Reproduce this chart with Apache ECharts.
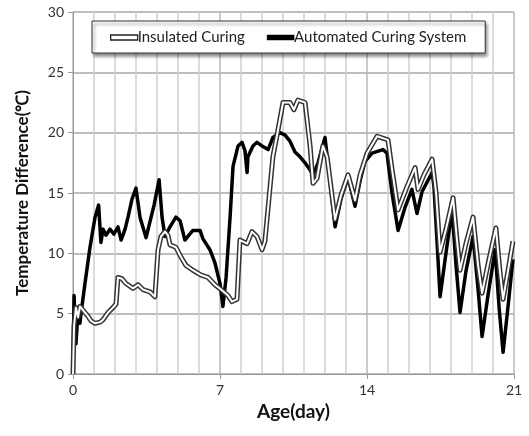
<!DOCTYPE html>
<html>
<head>
<meta charset="utf-8">
<script src="https://cdn.jsdelivr.net/npm/echarts@6/dist/echarts.min.js"></script>
<style>
html,body{margin:0;padding:0;background:#fff;}
#chart{width:529px;height:436px;}
</style>
</head>
<body>
<div id="chart"></div>
<script>
// Age (day) and temperature difference values
const insulatedDays = [0,0.05,0.14,0.24,0.33,0.52,0.71,0.86,1.05,1.29,1.43,1.67,1.90,2.05,2.14,2.33,2.52,2.86,3.10,3.33,3.67,3.90,4.05,4.19,4.38,4.52,4.62,4.90,5.14,5.38,5.71,6.10,6.43,6.76,7.05,7.38,7.57,7.81,7.95,8.29,8.52,8.76,9.00,9.14,9.52,9.76,10.00,10.33,10.52,10.71,11.05,11.29,11.43,11.62,11.90,12.10,12.48,12.76,13.10,13.43,13.67,14.00,14.48,15.00,15.19,15.48,15.90,16.29,16.43,16.71,17.10,17.29,17.48,17.76,18.10,18.29,18.43,18.71,19.05,19.29,19.48,19.81,20.14,20.33,20.48,20.71,20.95];
const insulatedVals = [0,4.0,5.5,4.7,5.6,5.2,4.8,4.4,4.2,4.3,4.5,5.1,5.5,5.8,8.0,7.9,7.5,7.1,7.4,7.0,6.8,6.4,10.3,11.4,11.8,11.5,10.7,10.5,9.7,9.0,8.6,8.2,8.0,7.4,7.0,6.5,6.0,6.2,11.1,10.8,11.8,11.4,10.3,11.0,18.0,20.2,22.5,22.5,21.9,22.7,22.5,18.9,15.8,16.2,18.9,18.0,12.8,14.8,16.5,14.4,16.5,18.3,19.7,19.4,17.0,13.6,15.5,17.1,15.3,16.5,17.8,15.0,10.1,12.0,14.6,11.0,8.6,10.8,13.0,9.0,6.7,9.5,12.1,8.5,6.2,8.5,11.0];

const automatedDays = [0,0.05,0.14,0.24,0.33,0.38,0.57,0.81,1.05,1.22,1.33,1.43,1.57,1.76,1.95,2.14,2.29,2.48,2.62,2.81,3.00,3.19,3.48,3.57,3.86,4.10,4.24,4.38,4.62,4.90,5.10,5.33,5.52,5.71,6.05,6.19,6.52,6.76,7.00,7.14,7.29,7.48,7.62,7.86,8.05,8.19,8.29,8.33,8.57,8.76,9.00,9.29,9.52,9.86,10.10,10.33,10.57,10.81,11.05,11.29,11.43,11.67,12.00,12.24,12.48,12.76,13.10,13.43,13.67,13.90,14.24,14.76,14.95,15.19,15.48,15.81,16.14,16.38,16.62,17.10,17.19,17.48,17.76,18.05,18.24,18.43,18.71,19.05,19.29,19.48,19.76,20.10,20.29,20.48,20.71,20.95];
const automatedVals = [0,6.5,2.5,5.3,4.2,5.0,7.5,10.5,13.0,14.0,10.9,12.0,11.5,12.0,11.6,12.2,11.1,12.0,13.0,14.5,15.4,13.0,11.3,11.4,14.0,16.1,13.0,11.4,12.2,13.0,12.7,11.1,11.5,11.9,11.9,11.2,10.3,9.2,7.5,5.6,8.0,13.0,17.2,18.9,19.2,18.5,16.7,18.0,18.9,19.2,18.9,18.6,19.6,20.0,19.8,19.3,18.4,18.0,17.5,16.9,16.5,17.5,19.6,16.0,12.2,14.5,16.3,13.9,16.0,17.6,18.3,18.6,18.3,15.0,11.9,13.8,15.3,13.3,15.1,16.7,15.5,6.4,10.0,13.6,9.0,5.1,8.5,11.4,7.0,3.1,6.5,10.3,5.5,1.8,5.5,9.5];

const xTicks = [0, 7, 14, 21];
const yTicks = [0, 5, 10, 15, 20, 25, 30];

const pair = (xs, ys) => xs.map((x, i) => [x, ys[i]]);
const insulatedData = pair(insulatedDays, insulatedVals);
const automatedData = pair(automatedDays, automatedVals);

const FONT = 'Lato';
const chart = echarts.init(document.getElementById('chart'));
chart.setOption({
  animation: false,
  backgroundColor: '#fff',
  grid: { left: 73, right: 15, top: 12, bottom: 62 },
  legend: {
    left: 92, top: 21,
    padding: [9, 19, 8, 18],
    itemGap: 22,
    itemWidth: 27, itemHeight: 5,
    backgroundColor: '#fff',
    borderColor: '#333', borderWidth: 1,
    shadowColor: 'rgba(0,0,0,0.45)', shadowBlur: 3, shadowOffsetX: 2, shadowOffsetY: 3,
    textStyle: { fontFamily: FONT, fontSize: 15, color: '#222', padding: [0, 0, 0, -5] },
    data: [
      { name: 'Insulated Curing', icon: 'rect', itemStyle: { color: '#fff', borderColor: '#222', borderWidth: 1.3 } },
      { name: 'Automated Curing System', icon: 'rect', itemStyle: { color: '#000', borderColor: '#000', borderWidth: 0.5 } }
    ]
  },
  xAxis: {
    type: 'value', min: xTicks[0], max: xTicks[xTicks.length - 1], interval: 7,
    name: 'Age(day)', nameLocation: 'middle', nameGap: 28,
    nameTextStyle: { fontFamily: FONT, fontWeight: 'bold', fontSize: 19, color: '#111' },
    axisLine: { show: true, lineStyle: { color: '#999', width: 1 } },
    axisTick: { show: true, length: 5, lineStyle: { color: '#999' } },
    axisLabel: { fontFamily: FONT, fontSize: 14, color: '#333', margin: 9 },
    splitLine: { show: true, lineStyle: { color: '#b8b8b8', width: 1.5 } },
    minorTick: { show: false, splitNumber: 7 },
    minorSplitLine: { show: true, lineStyle: { color: '#cfcfcf', width: 1.5 } }
  },
  yAxis: {
    type: 'value', min: yTicks[0], max: yTicks[yTicks.length - 1], interval: 5,
    name: 'Temperature Difference(\u2103)', nameLocation: 'middle', nameGap: 42,
    nameTextStyle: { fontFamily: FONT, fontWeight: 'bold', fontSize: 17, color: '#111' },
    axisLine: { show: true, lineStyle: { color: '#999', width: 1 } },
    axisTick: { show: true, length: 5, lineStyle: { color: '#999' } },
    axisLabel: { fontFamily: FONT, fontSize: 14, color: '#333', margin: 9 },
    splitLine: { show: true, lineStyle: { color: '#a8a8a8', width: 1.5 } }
  },
  series: [
    {
      name: 'Automated Curing System', type: 'line', data: automatedData,
      showSymbol: false, z: 2,
      lineStyle: { color: '#000', width: 3.5, join: 'round' },
      itemStyle: { color: '#000' }
    },
    {
      name: 'Insulated Curing', type: 'line', data: insulatedData,
      showSymbol: false, z: 3,
      lineStyle: { color: '#333', width: 5, join: 'round' },
      itemStyle: { color: '#333' }
    },
    {
      name: '_insulated_inner', type: 'line', data: insulatedData,
      showSymbol: false, z: 4, silent: true,
      lineStyle: { color: '#fff', width: 2, join: 'round' },
      itemStyle: { color: '#fff' }
    }
  ]
});
</script>
</body>
</html>
